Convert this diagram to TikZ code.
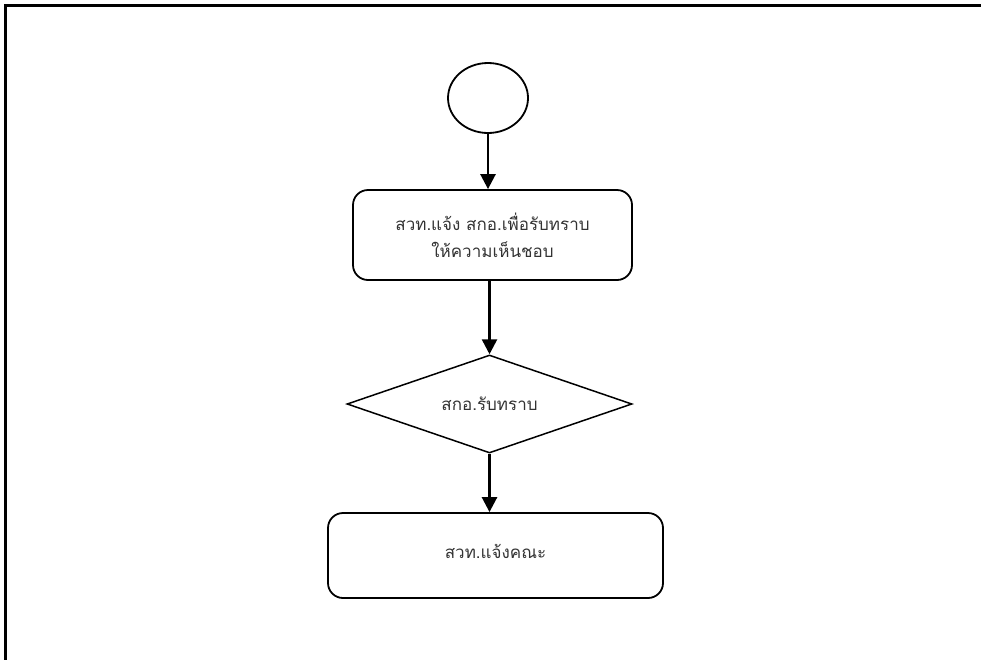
\documentclass[tikz,border=0pt]{standalone}
\usepackage{fontspec}
\newfontfamily\thaifont[Script=Thai]{Loma}
\usetikzlibrary{shapes.geometric,arrows.meta}
\begin{document}
\begin{tikzpicture}[x=1pt,y=-1pt,
  every node/.style={font=\thaifont\fontsize{17}{27}\selectfont, text=black!80},
  boxstyle/.style={draw=black, line width=1.8pt, rounded corners=15pt, inner sep=0pt, align=center},
  flow/.style={line width=2.6pt, -{Triangle[width=15pt,length=15pt]}},
]
\useasboundingbox (0,0) rectangle (981,659);
\begin{scope}
\clip (0,0) rectangle (981,659);
\draw[line width=2.2pt] (5.5,700) -- (5.5,5.5) -- (1000,5.5);
\end{scope}
\node[draw, line width=1.8pt, ellipse, minimum width=80pt, minimum height=70pt, inner sep=0pt] (start) at (488,98) {};
\node[boxstyle, minimum width=279pt, minimum height=90pt] (b1) at (492.5,235) {สวท.แจ้ง สกอ.เพื่อรับทราบ\\ให้ความเห็นชอบ};
\node[draw, line width=1.5pt, diamond, aspect=2.9, minimum width=285pt, minimum height=98pt, inner sep=0pt] (d1) at (489.5,404) {สกอ.รับทราบ\hspace{18pt}};
\node[boxstyle, minimum width=335pt, minimum height=85pt] (b2) at (495.5,555.5) {\raisebox{8pt}{สวท.แจ้งคณะ}};
\draw[flow] (start.south) -- (start.south |- b1.north);
\draw[flow] (b1.south -| d1.north) -- (d1.north);
\draw[flow] (d1.south) -- (d1.south |- b2.north);
\end{tikzpicture}
\end{document}
